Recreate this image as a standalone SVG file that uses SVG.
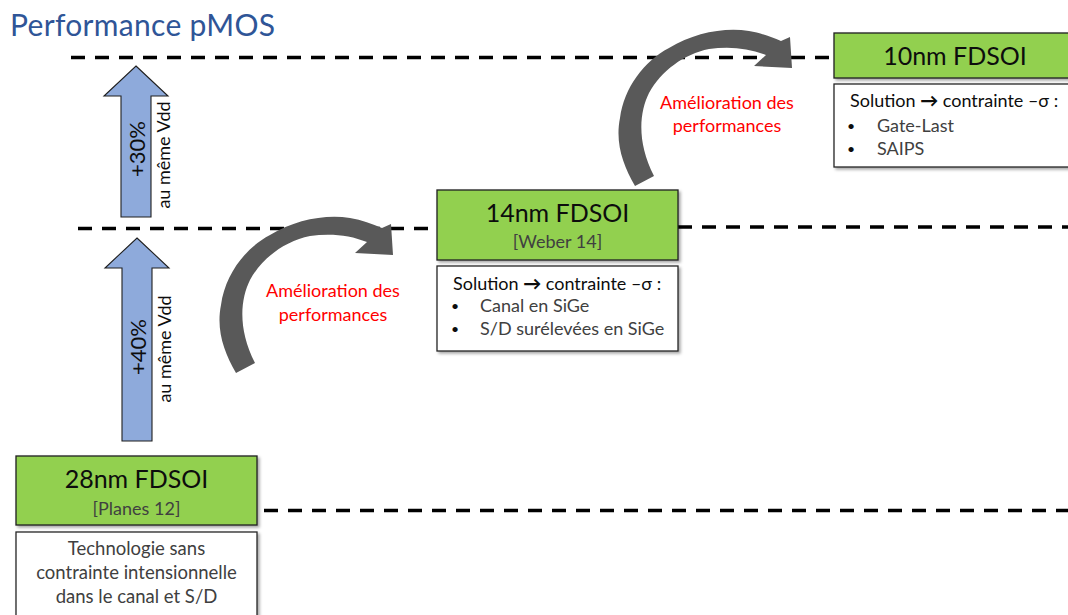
<svg xmlns="http://www.w3.org/2000/svg" width="1068" height="615" viewBox="0 0 1068 615">
  <defs>
    <filter id="sh" x="-10%" y="-10%" width="120%" height="130%">
      <feDropShadow dx="2" dy="2" stdDeviation="1.5" flood-color="#000" flood-opacity="0.35"/>
    </filter>
    <path id="curv" d="M236,373 C224,352 216,330 221,305 C225,275 245,248 270,235 C295,220 325,214 350,218 C362,220 372,224 382,228 L391,224 L393,255 L355,253 L367,242 C350,235 330,233 310,236 C285,241 262,258 250,280 C240,300 238,330 255,363 Z"/>
  </defs>
  <style>
    text { font-family: Lato, "Liberation Sans", sans-serif; }
    .green { fill: #92D050; stroke: #1f1f1f; stroke-width: 1.3; }
    .white { fill: #ffffff; stroke: #262626; stroke-width: 1.3; }
    .dash { stroke: #000; stroke-width: 3.6; stroke-dasharray: 14 10; fill: none; }
    .curved { fill: #595959; }
    .blue { fill: #8EAADB; stroke: #1f1f1f; stroke-width: 1.1; }
    .h1 { font-size: 25px; fill: #0d0d0d; text-anchor: middle; }
    .ref { font-size: 18px; fill: #404040; text-anchor: middle; }
    .body { font-size: 18.5px; fill: #404040; }
    .item { font-size: 18px; fill: #404040; }
    .sol { font-size: 18px; fill: #0d0d0d; }
    .bul { font-size: 14px; fill: #0d0d0d; }
    .red { font-size: 18px; fill: #ff0000; text-anchor: middle; }
    .pct { font-size: 22px; fill: #0d0d0d; text-anchor: middle; }
    .vdd { font-size: 18px; fill: #0d0d0d; text-anchor: middle; }
  </style>
  <rect width="1068" height="615" fill="#ffffff"/>

  <g id="title">
    <text x="10" y="36" font-size="30" fill="#2F5597" textLength="265">Performance pMOS</text>
  </g>

  <g id="connectors">
    <line class="dash" x1="71" y1="57.5" x2="834" y2="57.5"/>
    <line class="dash" x1="78" y1="228.5" x2="437" y2="228.5"/>
    <line class="dash" x1="678" y1="227" x2="1068" y2="227"/>
    <line class="dash" x1="264" y1="510.5" x2="1068" y2="510.5"/>
    <use href="#curv" class="curved"/>
    <use href="#curv" class="curved" transform="translate(399,-187)"/>
  </g>

  <g id="arrow-30">
    <polygon class="blue" points="136,66 168,96 151,96 151,217 121,217 121,96 104,96"/>
    <text class="pct" transform="translate(145,149) rotate(-90)">+30%</text>
    <text class="vdd" transform="translate(170,155) rotate(-90)">au même Vdd</text>
  </g>

  <g id="arrow-40">
    <polygon class="blue" points="137,238 169,268 152,268 152,441 122,441 122,268 105,268"/>
    <text class="pct" transform="translate(146,347) rotate(-90)">+40%</text>
    <text class="vdd" transform="translate(171,349) rotate(-90)">au même Vdd</text>
  </g>

  <g id="label-1">
    <text class="red" x="333" y="297">Amélioration des</text>
    <text class="red" x="333" y="321">performances</text>
  </g>
  <g id="label-2">
    <text class="red" x="727" y="109">Amélioration des</text>
    <text class="red" x="727" y="132">performances</text>
  </g>

  <g id="node-28nm">
    <rect class="green" x="16" y="456" width="241" height="69" filter="url(#sh)"/>
    <text class="h1" x="136.5" y="488">28nm FDSOI</text>
    <text class="ref" x="136.5" y="515">[Planes 12]</text>
    <rect class="white" x="16" y="532" width="241" height="95" filter="url(#sh)"/>
    <text class="body" x="136.5" y="555" text-anchor="middle">Technologie sans</text>
    <text class="body" x="136.5" y="579" text-anchor="middle">contrainte intensionnelle</text>
    <text class="body" x="136.5" y="603" text-anchor="middle">dans le canal et S/D</text>
  </g>

  <g id="node-14nm">
    <rect class="green" x="437" y="190" width="241" height="70" filter="url(#sh)"/>
    <text class="h1" x="557.5" y="222">14nm FDSOI</text>
    <text class="ref" x="557.5" y="248">[Weber 14]</text>
    <rect class="white" x="437" y="266" width="241" height="85" filter="url(#sh)"/>
    <text class="sol" x="453" y="290">Solution <tspan font-weight="900">→</tspan> contrainte –σ :</text>
    <text class="bul" x="451" y="311">•</text>
    <text class="item" x="480" y="312">Canal en SiGe</text>
    <text class="bul" x="451" y="334">•</text>
    <text class="item" x="480" y="335">S/D surélevées en SiGe</text>
  </g>

  <g id="node-10nm">
    <rect class="green" x="834" y="33" width="242" height="45" filter="url(#sh)"/>
    <text class="h1" x="955" y="65">10nm FDSOI</text>
    <rect class="white" x="834" y="84" width="242" height="83" filter="url(#sh)"/>
    <text class="sol" x="850" y="107">Solution <tspan font-weight="900">→</tspan> contrainte –σ :</text>
    <text class="bul" x="847" y="131">•</text>
    <text class="item" x="877" y="132">Gate-Last</text>
    <text class="bul" x="847" y="154">•</text>
    <text class="item" x="877" y="155">SAIPS</text>
  </g>
</svg>
